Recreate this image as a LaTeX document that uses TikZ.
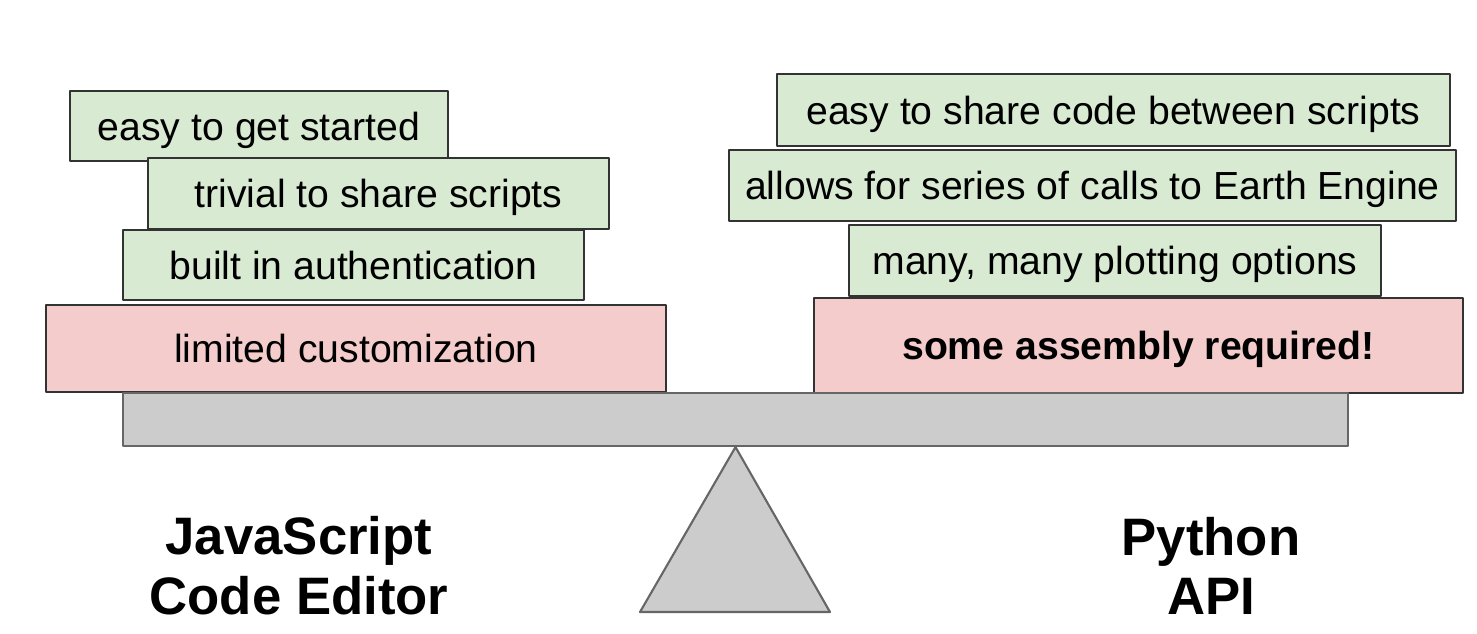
\documentclass[tikz,border=0pt]{standalone}
\usepackage{fontspec}
\setmainfont{Liberation Sans}
\definecolor{pro}{HTML}{D9EAD3}
\definecolor{con}{HTML}{F4CCCC}
\definecolor{plank}{HTML}{CCCCCC}
\definecolor{edge}{HTML}{333333}
\definecolor{rim}{HTML}{666666}
\tikzset{
  card/.style={draw=edge, line width=0.8pt, inner sep=0pt, text depth=0pt, font=\fontsize{22.3}{26}\selectfont},
  gbox/.style={card, fill=pro},
  rbox/.style={card, fill=con},
  side/.style={align=center, font=\fontsize{30}{34}\selectfont\bfseries}
}
\begin{document}
\begin{tikzpicture}[x=0.02cm, y=-0.02cm, line join=round]
	\useasboundingbox (0,0) rectangle (1477,633);
	% JavaScript side
	\node[gbox, minimum width=7.56cm, minimum height=1.40cm] (js1) at (259,126) {easy to get started};
	\node[gbox, minimum width=9.22cm, minimum height=1.42cm] (js2) at (378.5,193.5) {trivial to share scripts};
	\node[gbox, minimum width=9.22cm, minimum height=1.40cm] (js3) at (353.5,265) {built in authentication};
	\node[rbox, minimum width=12.40cm, minimum height=1.74cm] (jsc) at (356,348.5) {limited customization};
	% Python side
	\node[gbox, minimum width=13.46cm, minimum height=1.44cm] (py1) at (1113.5,110) {easy to share code between scripts};
	\node[gbox, minimum width=14.54cm, minimum height=1.42cm] (py2) at (1092.5,185.5) {allows for series of calls to Earth Engine};
	\node[gbox, minimum width=10.64cm, minimum height=1.42cm] (py3) at (1115,260.5) {many, many plotting options};
	\node[rbox, minimum width=12.98cm, minimum height=1.90cm] (pyc) at (1138.5,345.5) {\bfseries some assembly required!};
	% the seesaw
	\node[draw=rim, fill=plank, line width=1.2pt, inner sep=0pt, minimum width=24.50cm, minimum height=1.06cm] (beam) at (735.5,419.5) {};
	\draw[draw=rim, fill=plank, line width=1.2pt] (beam.south) -- (640,612) -- (830,612) -- cycle;
	\node[side] (js) at (299,566) {JavaScript\\Code Editor};
	\node[side] (py) at (1211,566) {Python\\API};
\end{tikzpicture}
\end{document}
